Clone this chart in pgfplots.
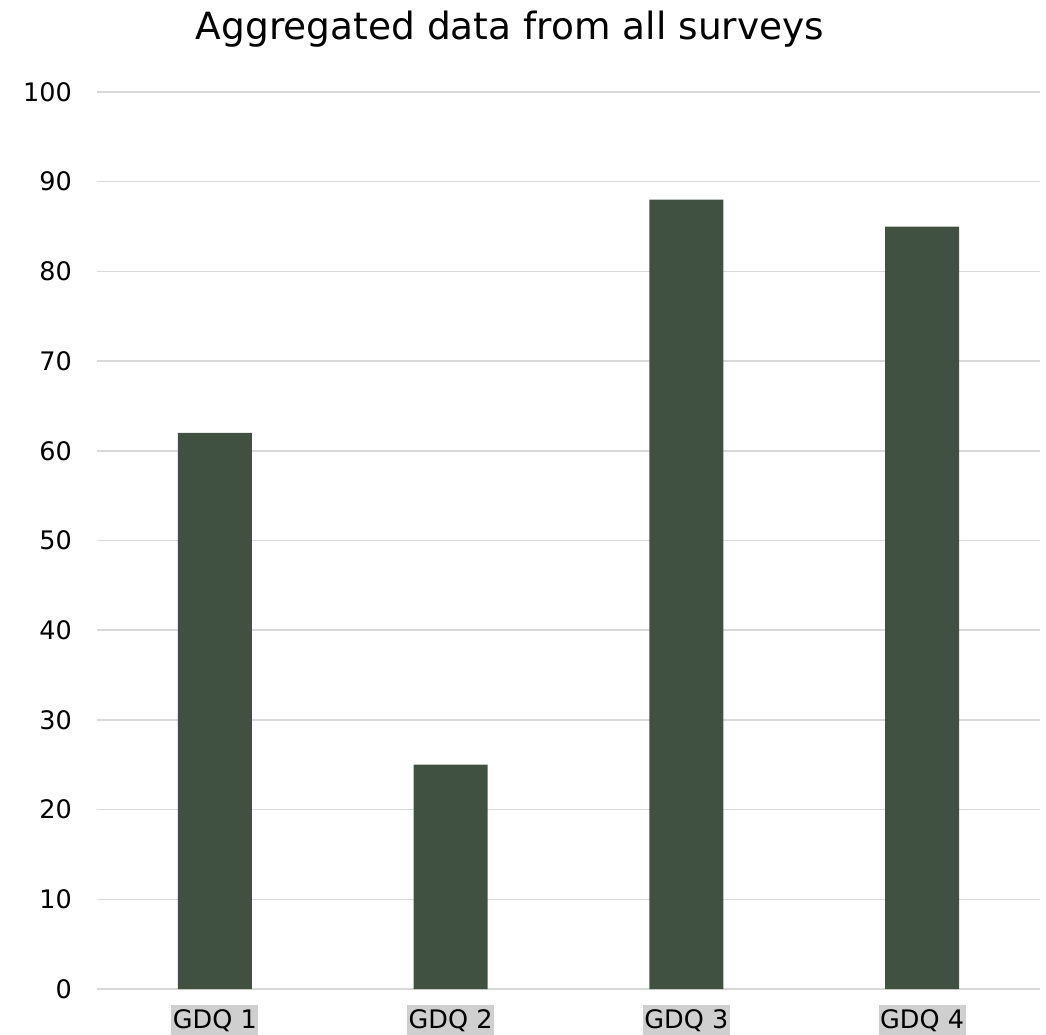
\documentclass[border=0pt]{standalone}
\usepackage{pgfplots}
\pgfplotsset{compat=1.18}
\usepackage{fontspec}
\setmainfont{DejaVu Sans}
\definecolor{barc}{HTML}{405142}
\definecolor{gridc}{HTML}{D9D9D9}
\definecolor{labbg}{HTML}{CFCFCF}
\begin{document}
\begin{tikzpicture}
\path[use as bounding box] (-97bp,-46bp) rectangle (949bp,989bp);
\begin{axis}[
  at={(0,0)}, anchor=south west,
  scale only axis,
  width=943bp, height=897bp,
  xmin=-0.5, xmax=3.5,
  ymin=0, ymax=100,
  ytick={0,10,...,100},
  xtick={0,1,2,3},
  xticklabels={GDQ 1,GDQ 2,GDQ 3,GDQ 4},
  axis line style={draw=none},
  major tick length=0pt,
  ymajorgrids,
  grid style={color=gridc, line width=1.5bp},
  /pgf/number format/assume math mode=true,
  tick label style={font=\fontsize{25.5bp}{30bp}\selectfont, text=black},
  yticklabel style={anchor=east, inner sep=0pt, xshift=-25bp},
  xticklabel style={anchor=north, fill=labbg, inner xsep=1.5bp, inner ysep=0pt, text height=23bp, text depth=6.5bp, yshift=-16bp},
  title={Aggregated data from all surveys},
  title style={font=\fontsize{37.5bp}{44bp}\selectfont, at={(rel axis cs:0.438,1)}, anchor=center, yshift=57bp},
]
\addplot[ybar, bar width=74bp, fill=barc, draw=none] coordinates {(0,62) (1,25) (2,88) (3,85)};
\end{axis}
\end{tikzpicture}
\end{document}
